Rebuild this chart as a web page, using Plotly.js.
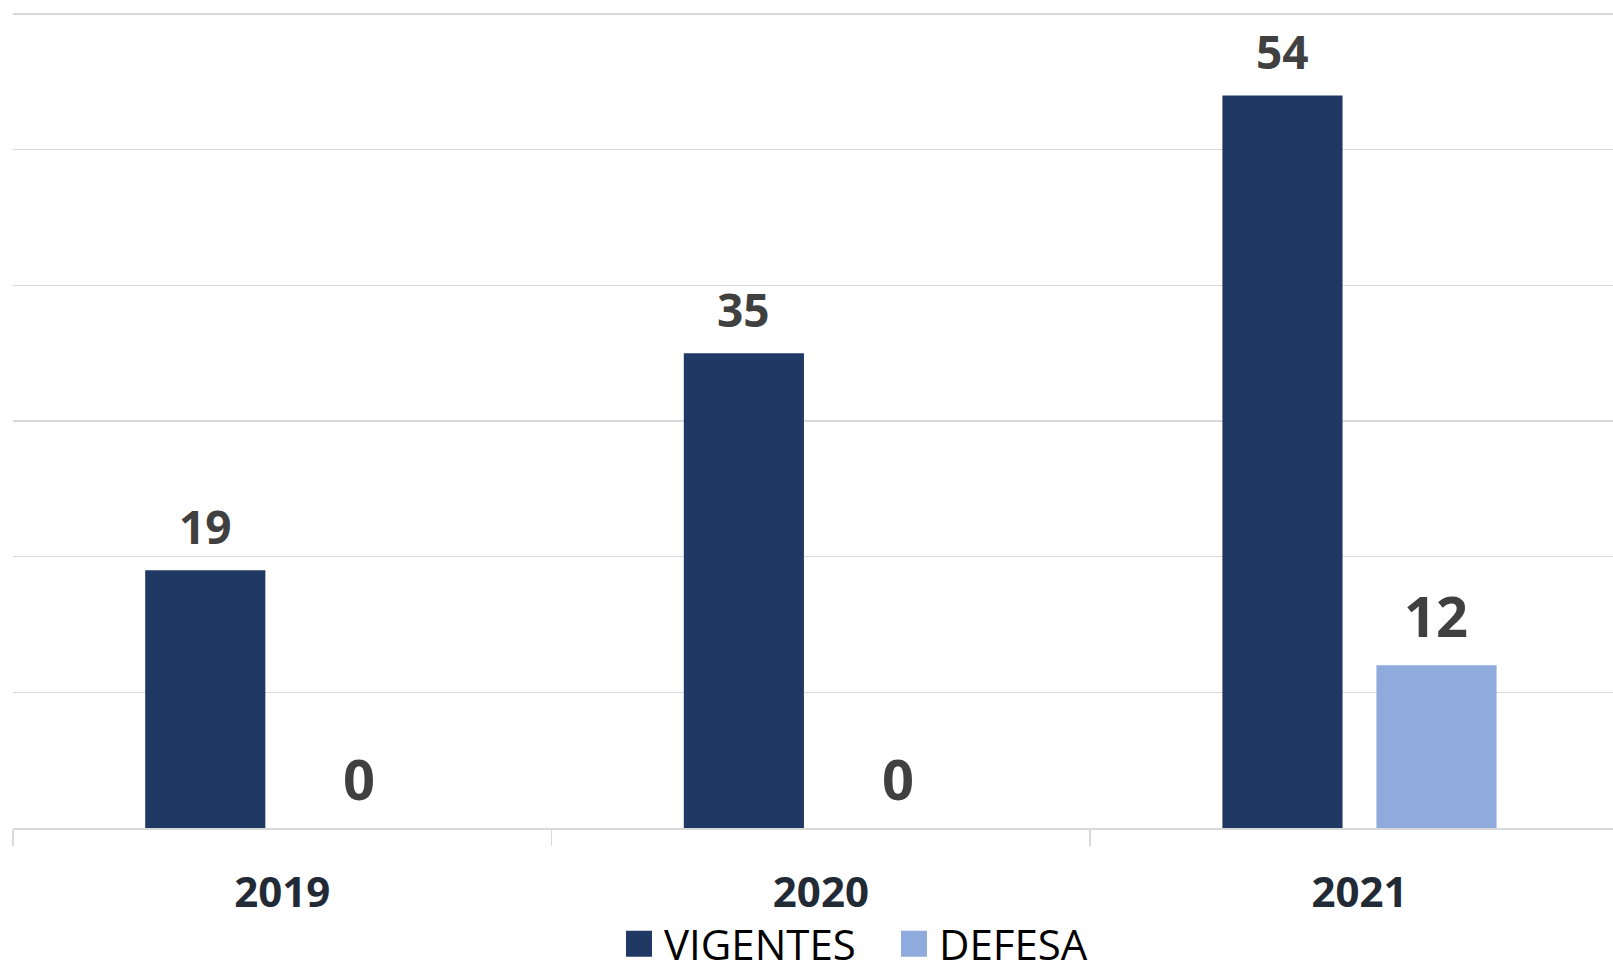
<!DOCTYPE html>
<html>
<head>
<meta charset="utf-8">
<script src="https://cdn.plot.ly/plotly-3.0.1.min.js"></script>
<style>
  html, body { margin: 0; padding: 0; background: #ffffff; }
  #chart { width: 1613px; height: 966px; }
</style>
</head>
<body>
<div id="chart"></div>
<script>
// ---- data ----
const categories = ['2019', '2020', '2021'];
const vigentes = [19, 35, 54];
const defesa = [0, 0, 12];
const seriesNames = ['VIGENTES', 'DEFESA'];

const colVig = '#203864';
const colDef = '#8faadc';
const labelColor = '#404040';
const gridColor = '#d9d9d9';

const traces = [
  {
    type: 'bar', name: seriesNames[0], x: categories, y: vigentes,
    marker: { color: colVig }, hoverinfo: 'skip'
  },
  {
    type: 'bar', name: seriesNames[1], x: categories, y: defesa,
    marker: { color: colDef }, hoverinfo: 'skip'
  }
];

// data labels (category axis: annotation x is the category index)
const annotations = [];
categories.forEach((c, i) => {
  annotations.push({
    x: i, y: vigentes[i], xref: 'x', yref: 'y', text: String(vigentes[i]),
    showarrow: false, xanchor: 'center', yanchor: 'bottom', xshift: -77, yshift: 11,
    font: { family: 'Open Sans', size: 46, color: labelColor, weight: 700 }
  });
  annotations.push({
    x: i, y: defesa[i], xref: 'x', yref: 'y', text: String(defesa[i]),
    showarrow: false, xanchor: 'center', yanchor: 'bottom', xshift: 77, yshift: 10,
    font: { family: 'Open Sans', size: 56, color: labelColor, weight: 700 }
  });
});

const layout = {
  width: 1613, height: 966,
  margin: { l: 13, r: 0, t: 12, b: 138, pad: 0, autoexpand: false },
  paper_bgcolor: '#ffffff', plot_bgcolor: '#ffffff',
  barmode: 'group', bargap: 0.428, bargroupgap: 0.22,
  showlegend: true,
  legend: {
    orientation: 'h', x: 0.5475, xanchor: 'center', y: -0.142, yanchor: 'middle',
    font: { family: 'Open Sans', size: 42, color: '#000000' },
    itemwidth: 40, entrywidth: 220, traceorder: 'normal', borderwidth: 0
  },
  xaxis: {
    type: 'category', range: [-0.5, 2.4707], fixedrange: true,
    showgrid: false, zeroline: false,
    showline: true, linecolor: gridColor, linewidth: 1.5,
    ticks: 'outside', tickson: 'boundaries', ticklen: 16, tickwidth: 1.5, tickcolor: gridColor,
    ticklabelstandoff: 27,
    tickfont: { family: 'Open Sans', size: 42, color: '#222a35', weight: 700 }
  },
  yaxis: {
    range: [0, 60.15], dtick: 10, tick0: 0, fixedrange: true,
    showgrid: true, gridcolor: gridColor, gridwidth: 1.5,
    zeroline: false, showticklabels: false, ticks: ''
  },
  annotations: annotations
};

Plotly.newPlot('chart', traces, layout, { staticPlot: true, displayModeBar: false }).then(() => {
  // enlarge legend swatches to match the reference's big squares
  document.querySelectorAll('#chart .legend .legendpoints path').forEach(p => {
    p.setAttribute('d', 'M13,13H-13V-13H13Z');
  });
});
</script>
</body>
</html>
